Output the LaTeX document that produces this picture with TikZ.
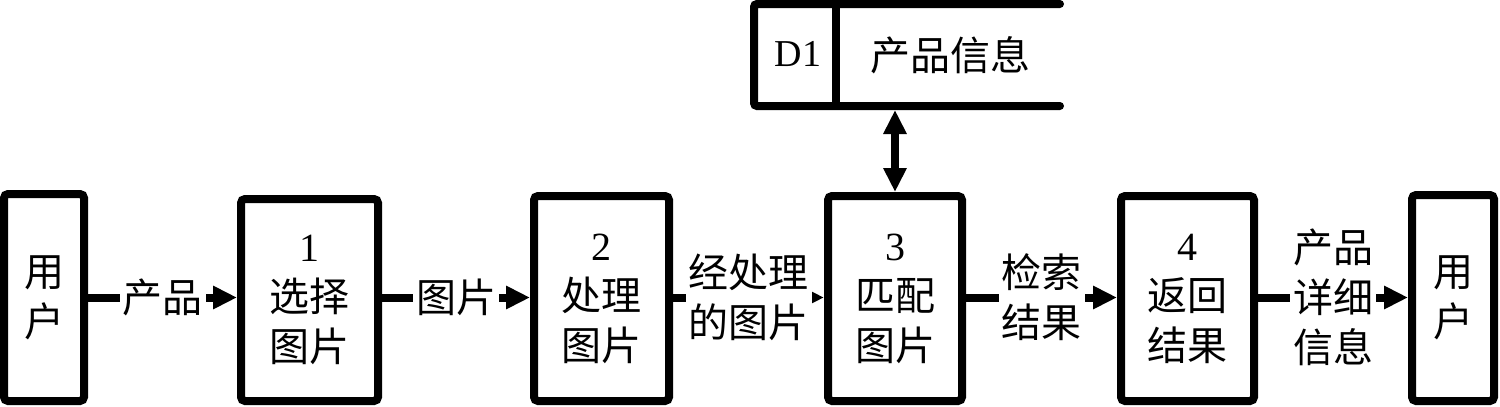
\documentclass[tikz,border=0pt]{standalone}
\usepackage{fontspec}
\setmainfont{Liberation Serif}
\newfontfamily\cjk{Noto Sans CJK SC}
\usetikzlibrary{arrows.meta}
\begin{document}
\begin{tikzpicture}[x=1pt,y=-1pt,
  cjkfont/.style={font=\cjk\fontsize{40}{50}\selectfont},
  proc/.style={draw, line width=8pt, rounded corners=4pt, inner sep=0pt, align=center, cjkfont},
  lbl/.style={fill=white, inner sep=3pt, align=center, cjkfont, line width=0pt},
  tip/.tip={Triangle[length=24pt,width=22pt]},
  flow/.style={line width=8pt, -tip},
  dbl/.style={line width=8pt, tip-tip},
  store/.style={line width=8pt, line cap=round, rounded corners=3pt}
]
\useasboundingbox (0,0) rectangle (1500,407);

% external entities and processes
\node[proc, minimum width=80pt, minimum height=207pt] (U1) at (44,297.5) {用\\户};
\node[proc, minimum width=137pt, minimum height=202pt] (P1) at (309.5,300) {{\rmfamily 1}\\选择\\图片};
\node[proc, minimum width=135pt, minimum height=205pt] (P2) at (601.5,298.5) {{\rmfamily 2}\\处理\\图片};
\node[proc, minimum width=134pt, minimum height=205pt] (P3) at (895,298.5) {{\rmfamily 3}\\匹配\\图片};
\node[proc, minimum width=133pt, minimum height=205pt] (P4) at (1187.5,298.5) {{\rmfamily 4}\\返回\\结果};
\node[proc, minimum width=82pt, minimum height=206pt] (U2) at (1453,298) {用\\户};

% data store
\node[minimum width=306pt, minimum height=102pt, inner sep=0pt, outer sep=0pt] (DS) at (907,55) {};
\node[minimum width=82pt, minimum height=102pt, inner sep=0pt, outer sep=0pt] (DSid) at (795,55) {};
\draw[store] (DS.north east) -- (DS.north west) -- (DS.south west) -- (DS.south east);
\draw[line width=8pt] (DSid.north east) -- (DSid.south east);
\node[font=\fontsize{38}{44}\selectfont, inner sep=0pt] (DSlabel) at (798,54) {D1};
\node[cjkfont, inner sep=0pt] (DSname) at (950,55) {产品信息};

% flows
\draw[flow] (U1.east) -- node[lbl] (f1) {产品} (U1.east -| P1.west);
\draw[flow] (P1.east |- U1.east) -- node[lbl] (f2) {图片} (U1.east -| P2.west);
\draw[flow] (P2.east |- U1.east) -- node[lbl] (f3) {经处理\\的图片} (U1.east -| P3.west);
\draw[flow] (P3.east |- U1.east) -- node[lbl] (f4) {检索\\结果} (U1.east -| P4.west);
\draw[flow] (P4.east |- U1.east) -- node[lbl] (f5) {产品\\详细\\信息} (U1.east -| U2.west);
\draw[dbl] (P3.north) -- ([yshift=-4pt]P3.north |- DS.south);
\end{tikzpicture}
\end{document}
